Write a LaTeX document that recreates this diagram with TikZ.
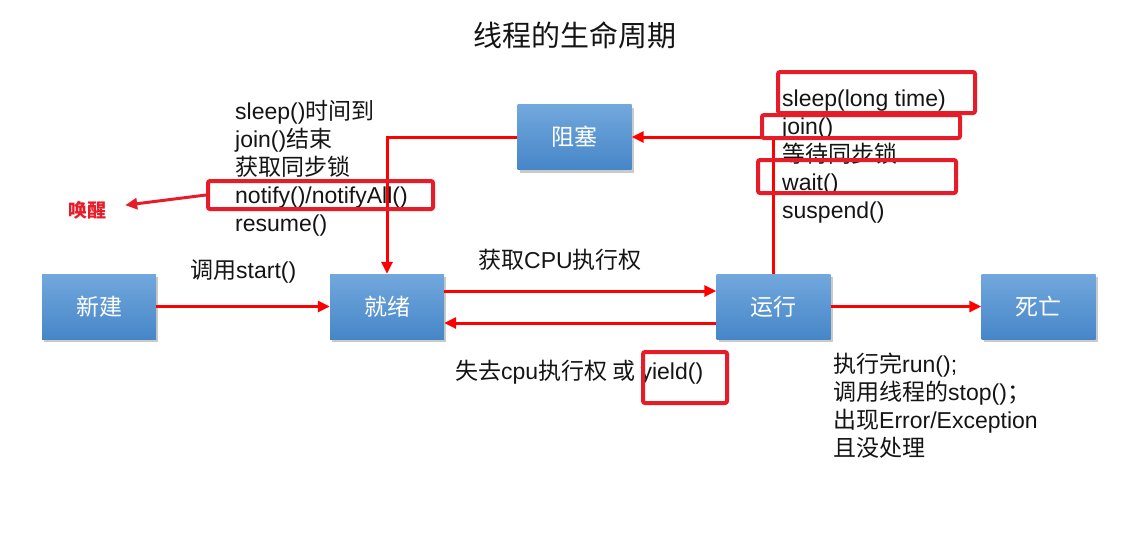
\documentclass[tikz,border=0pt]{standalone}
\usepackage{fontspec}
\setmainfont{Liberation Sans}
\newfontfamily\cjk{Noto Sans CJK SC}
\usetikzlibrary{arrows.meta,shadows,positioning}
\definecolor{ink}{RGB}{20,20,20}
\definecolor{flowred}{RGB}{255,0,0}
\definecolor{markred}{RGB}{232,28,40}
\definecolor{statetop}{RGB}{114,168,221}
\definecolor{statebot}{RGB}{70,134,200}
\newcommand{\zh}[1]{{\cjk #1}}
\tikzset{
  state/.style={
    draw=none, top color=statetop, bottom color=statebot,
    minimum width=114, minimum height=65, inner sep=0pt,
    font=\fontsize{23}{28}\selectfont\cjk, text=white,
    drop shadow={shadow xshift=2pt, shadow yshift=-3pt, opacity=0.35, fill=black!60},
  },
  note/.style={
    anchor=north west, align=left, inner sep=0pt,
    font=\fontsize{23}{28}\selectfont, text=ink,
  },
  lbl/.style={
    anchor=west, inner sep=0pt, font=\fontsize{23}{28}\selectfont, text=ink,
  },
  markbox/.style={
    draw=markred, line width=4pt, rounded corners=2pt, inner sep=0pt,
  },
  flow/.style={-{Triangle[length=12pt, width=11pt]}, line width=3pt, draw=flowred},
}
\begin{document}
\begin{tikzpicture}[x=1pt,y=-1pt]
  \useasboundingbox (0,0) rectangle (1130,550);

  \node[font=\fontsize{29}{32}\selectfont\cjk, text=ink] (title) at (575,35) {线程的生命周期};

  % states
  \node[state] (new)   at (99,306.5)  {新建};
  \node[state] (ready) at (387,306.5) {就绪};
  \node[state] (block) at (574.5,137) {阻塞};
  \node[state] (run)   at (773.5,306.5) {运行};
  \node[state] (dead)  at (1038.5,306.5) {死亡};

  % transitions
  \draw[flow] (new) -- (ready);
  \draw[flow] ([yshift=15.5pt]ready.east) -- ([yshift=15.5pt]run.west);
  \draw[flow] ([yshift=-16.5pt]run.west) -- ([yshift=-16.5pt]ready.east);
  \draw[flow] (run) -- (dead);
  \draw[flow] (run.north) |- (block.east);
  \draw[flow] (block.west) -| (ready.north);

  % labels
  \node[lbl] (start) at (190,271) {\zh{调用}start()};
  \node[lbl] (getcpu) at (478,260) {\zh{获取}CPU\zh{执行权}};
  \node[lbl] (losecpu) at (455,372) {\zh{失去}cpu\zh{执行权 或 }yield()};

  \node[note] (wakeup) at (235,100) {sleep()\zh{时间到}\\join()\zh{结束}\\\zh{获取同步锁}\\notify()/notifyAll()\\resume()};
  \node[note] (sleepon) at (782,90) {sleep(long time)\\join()\\\zh{等待同步锁}\\wait()\\suspend()};
  \node[note] (finish) at (833,353) {\zh{执行完}run();\\\zh{调用线程的}stop()\zh{；}\\\zh{出现}Error/Exception\\\zh{且没处理}};

  % highlights
  \node[markbox, minimum width=225, minimum height=28] (notifybox) at (320.5,195) {};
  \node[markbox, minimum width=197, minimum height=41] (sleepbox) at (876.5,92.5) {};
  \node[markbox, minimum width=198, minimum height=23] (joinbox) at (861,126.5) {};
  \node[markbox, minimum width=198, minimum height=33] (waitbox) at (857,176.5) {};
  \node[markbox, minimum width=84, minimum height=51] (yieldbox) at (685,377.5) {};

  \node[font=\fontsize{19}{22}\selectfont\cjk\bfseries, text=markred, minimum width=76, inner sep=0pt] (wake) at (87,210) {唤醒};
  \draw[flow, draw=markred] (notifybox.west) -- (wake);
\end{tikzpicture}
\end{document}
